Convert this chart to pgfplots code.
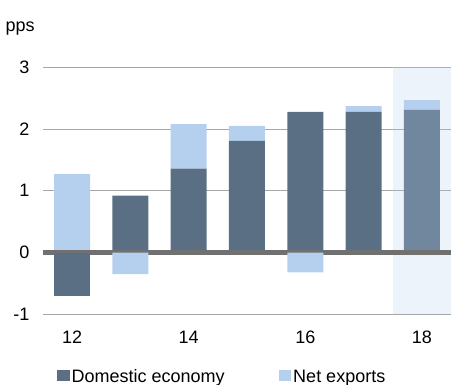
\documentclass[border=0pt]{standalone}
\usepackage{pgfplots}
\pgfplotsset{compat=1.18}
\usepackage{fontspec}
\setmainfont{Liberation Sans}
\definecolor{domc}{RGB}{91,111,132}
\definecolor{netc}{RGB}{180,208,238}
\definecolor{gridc}{RGB}{166,166,166}
\definecolor{zeroc}{RGB}{112,112,112}
\pgfplotsset{
  base/.style={
    scale only axis, width=408pt, height=247pt,
    xmin=-0.5, xmax=6.5, ymin=-1, ymax=3,
    ybar stacked, bar width=36pt,
  },
  sqlegend/.style={legend image code/.code={\fill[##1,draw=none] (0pt,-4.5pt) rectangle (12.5pt,7pt);}},
}
\begin{document}
\begin{tikzpicture}
\begin{axis}[base,
  axis line style={draw=none},
  tick style={draw=none},
  ymajorgrids,
  grid style={gridc, line width=1pt},
  ytick={-1,0,1,2,3},
  xtick={0,2,4,6},
  xticklabels={12,14,16,18},
  /pgf/number format/assume math mode=true,
  ticklabel style={font=\fontsize{18}{21.6}\selectfont},
  yticklabel style={xshift=-10pt},
  xticklabel style={yshift=-13.5pt},
  legend style={draw=none, fill=none, at={(rel axis cs:0,0)}, anchor=south west,
    xshift=14pt, yshift=-72pt, inner sep=0pt,
    font=\fontsize{18}{21.6}\selectfont,
    /tikz/every even column/.append style={column sep=52pt}},
  legend columns=2,
]
\addplot[fill=domc, draw=none, sqlegend] coordinates {(0,0) (1,0.92) (2,1.36) (3,1.81) (4,2.28) (5,2.28) (6,2.31)};
\addplot[fill=netc, draw=none, sqlegend] coordinates {(0,1.27) (1,0) (2,0.72) (3,0.24) (4,0) (5,0.09) (6,0.16)};
\legend{Domestic economy, Net exports}
\end{axis}
\begin{axis}[base, hide axis]
\addplot[fill=domc, draw=none] coordinates {(0,-0.71) (1,0) (2,0) (3,0) (4,0) (5,0) (6,0)};
\addplot[fill=netc, draw=none] coordinates {(0,0) (1,-0.35) (2,0) (3,0) (4,-0.32) (5,0) (6,0)};
\draw[zeroc, line width=5.5pt] (axis cs:-0.5,0) -- (axis cs:6.5,0);
\fill[netc, opacity=0.25] (axis cs:5.5,-1) rectangle (axis cs:6.5,3);
\end{axis}
\node[anchor=base west, inner sep=0pt, font=\fontsize{18}{21.6}\selectfont] at (-37.5pt,283pt) {pps};
\pgfresetboundingbox
\path[use as bounding box] (-43pt,-70.7pt) rectangle (408pt,314.3pt);
\end{tikzpicture}
\end{document}
